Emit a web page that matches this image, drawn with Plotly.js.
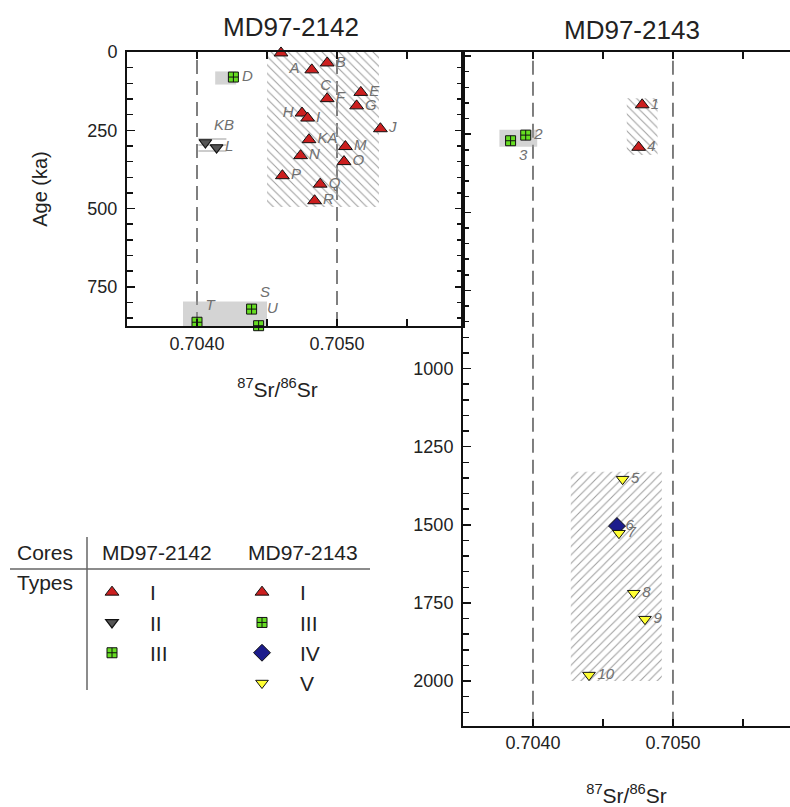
<!DOCTYPE html>
<html><head><meta charset="utf-8">
<script src="https://cdn.plot.ly/plotly-3.0.1.min.js"></script>
<style>html,body{margin:0;padding:0;background:#fff}#chart{width:790px;height:807px}</style>
</head><body><div id="chart"></div><script>
// ---------- DATA ----------
// MD97-2142, type I
const c42_I_label = ['A','B','C','E','F','G','H','I','J','KA','M','N','O','P','Q','R'];
const c42_I_sr    = [0.70460,0.70493,0.70482,0.70517,0.70493,0.70514,0.70475,0.70479,0.70531,0.70480,0.70506,0.70474,0.70505,0.70461,0.70488,0.70484];
const c42_I_age   = [3,35,57,129,149,172,195,211,245,280,302,331,350,395,422,475];
const c42_I_pos   = ['bottom right','middle right','bottom right','middle right','middle right','middle right','middle left','middle right','middle right','middle right','middle right','middle right','middle right','middle right','middle right','middle right'];
// MD97-2142, type II
const c42_II_label = ['KB','L'];
const c42_II_sr    = [0.70406,0.70414];
const c42_II_age   = [289,305];
const c42_II_pos   = ['top right','middle right'];
// MD97-2142, type III
const c42_III_label = ['D','T','S','U'];
const c42_III_sr    = [0.70426,0.70400,0.70439,0.70444];
const c42_III_age   = [80,863,821,874];
const c42_III_pos   = ['middle right','top right','top right','top right'];
// MD97-2143
const c43_I_label = ['1','4'];
const c43_I_sr    = [0.70478,0.704755];
const c43_I_age   = [156,292];
const c43_I_pos   = ['middle right','middle right'];
const c43_III_label = ['2','3'];
const c43_III_sr    = [0.703948,0.70384];
const c43_III_age   = [253,271];
const c43_III_pos   = ['middle right','bottom right'];
const c43_IV_label = ['6'];
const c43_IV_sr    = [0.70460];
const c43_IV_age   = [1504];
const c43_IV_pos   = ['middle right'];
const c43_V_label = ['5','7','8','9','10'];
const c43_V_sr    = [0.70464,0.704614,0.70472,0.70480,0.70440];
const c43_V_age   = [1354,1527,1719,1802,1981];
const c43_V_pos   = ['middle right','middle right','middle right','middle right','middle right'];
// shaded groupings
const hatchL_sr = [0.70450,0.70530], hatchL_age = [0,495];
const grayD_sr = [0.70413,0.70428], grayD_age = [62,104];
const linesKB_sr = [0.70401,0.70421], linesKB_age = [264,328];
const grayTSU_sr = [0.70390,0.70450], grayTSU_age = [797,875];
const gray23_sr = [0.70376,0.70403], gray23_age = [236,290];
const hatch14_sr = [0.70467,0.70489], hatch14_age = [135,317];
const hatch510_sr = [0.70427,0.70492], hatch510_age = [1330,2000];
// reference lines
const refSr = [0.7040, 0.7050];
// ticks
const xTickVals = [0.7040,0.7045,0.7050,0.7055];
const xTickText = ['0.7040','','0.7050',''];
const yTickL = [0,250,500,750];
const yTickR = [0,250,500,750,1000,1250,1500,1750,2000];
const yTickRText = ['','','','','1000','1250','1500','1750','2000'];

// ---------- STYLE ----------
const FONT = 'Liberation Sans, Arial, sans-serif';
const W = 790, H = 807;
const px = v => v / W, py = v => 1 - v / H;
const symI = {symbol:'triangle-up', size:12, color:'#cc1f1f', line:{color:'#111', width:1}};
const symII = {symbol:'triangle-down', size:11, color:'#555', line:{color:'#111', width:1.2}};
const symIII = {symbol:'square-cross', size:10, color:'#66dd22', line:{color:'#111', width:1}};
const symIV = {symbol:'diamond', size:13, color:'#1c1c8c', line:{color:'#111', width:1}};
const symV = {symbol:'triangle-down', size:11, color:'#ffff33', line:{color:'#111', width:1}};
const labelFont = {family: FONT, size: 15, color: '#707070', style: 'italic'};

function rect(xs, ys) { return {x:[xs[0],xs[1],xs[1],xs[0],xs[0]], y:[ys[0],ys[0],ys[1],ys[1],ys[0]]}; }
function region(xs, ys, ax, opts) {
  const r = rect(xs, ys);
  return Object.assign({type:'scatter', mode:'lines', x:r.x, y:r.y, xaxis:ax[0], yaxis:ax[1],
    fill:'toself', line:{width:0}, hoverinfo:'skip', showlegend:false}, opts);
}
function hatch(shape) {
  return {fillcolor:'rgba(0,0,0,0)', fillpattern:{shape:shape, fgcolor:'#a0a0a0', bgcolor:'rgba(0,0,0,0)', size:6, solidity:0.18}};
}
const grayFill = {fillcolor:'rgba(160,160,160,0.45)'};
const L = ['x','y'], R = ['x2','y2'];

function pts(sr, age, ax, marker, name, legend, show) {
  return {type:'scatter', mode:'markers', x:sr, y:age, xaxis:ax[0], yaxis:ax[1], marker:marker,
    name:name, legend:legend, showlegend:show, cliponaxis:false};
}
function labs(sr, age, lab, pos, ax) {
  return {type:'scatter', mode:'markers+text', x:sr, y:age, text:lab, textposition:pos, xaxis:ax[0], yaxis:ax[1],
    marker:{size:12, color:'rgba(0,0,0,0)'},
    textfont:labelFont, showlegend:false, hoverinfo:'skip', cliponaxis:false};
}

const data = [
  region(hatchL_sr, hatchL_age, L, hatch('\\')),
  region(grayD_sr, grayD_age, L, grayFill),
  region(linesKB_sr, linesKB_age, L, hatch('-')),
  region(grayTSU_sr, grayTSU_age, L, grayFill),
  region(gray23_sr, gray23_age, R, grayFill),
  region(hatch14_sr, hatch14_age, R, hatch('\\')),
  region(hatch510_sr, hatch510_age, R, hatch('/')),
  labs(c42_I_sr, c42_I_age, c42_I_label, c42_I_pos, L),
  labs(c42_II_sr, c42_II_age, c42_II_label, c42_II_pos, L),
  labs(c42_III_sr, c42_III_age, c42_III_label, c42_III_pos, L),
  labs(c43_I_sr, c43_I_age, c43_I_label, c43_I_pos, R),
  labs(c43_III_sr, c43_III_age, c43_III_label, c43_III_pos, R),
  labs(c43_IV_sr, c43_IV_age, c43_IV_label, c43_IV_pos, R),
  labs(c43_V_sr, c43_V_age, c43_V_label, c43_V_pos, R),
  pts(c42_I_sr, c42_I_age, L, symI, 'I', 'legend', true),
  pts(c42_II_sr, c42_II_age, L, symII, 'II', 'legend', true),
  pts(c42_III_sr, c42_III_age, L, symIII, 'III', 'legend', true),
  pts(c43_I_sr, c43_I_age, R, symI, 'I', 'legend2', true),
  pts(c43_III_sr, c43_III_age, R, symIII, 'III', 'legend2', true),
  pts(c43_IV_sr, c43_IV_age, R, symIV, 'IV', 'legend2', true),
  pts(c43_V_sr, c43_V_age, R, symV, 'V', 'legend2', true)
];

const axisCommon = {showline:true, linecolor:'#111', linewidth:2, showgrid:false, zeroline:false,
  ticks:'inside', tickcolor:'#111', tickwidth:1.5, tickfont:{family:FONT, size:18, color:'#222'}};
const srTitleL = {text:'<sup>87</sup>Sr/<sup>86</sup>Sr&nbsp;&nbsp;&nbsp;&nbsp;&nbsp;&nbsp;', font:{family:FONT, size:21, color:'#222'}};
const srTitleR = {text:'<sup>87</sup>Sr/<sup>86</sup>Sr', font:{family:FONT, size:21, color:'#222'}};

const shapes = [];
refSr.forEach(v => {
  shapes.push({type:'line', xref:'x', yref:'y domain', x0:v, x1:v, y0:0, y1:1, layer:'below', line:{color:'#555', width:1.5, dash:'14px,7px'}});
  shapes.push({type:'line', xref:'x2', yref:'y2 domain', x0:v, x1:v, y0:0, y1:1, layer:'below', line:{color:'#555', width:1.5, dash:'14px,7px'}});
});
// legend table rules
shapes.push({type:'line', xref:'paper', yref:'paper', x0:px(10), x1:px(370), y0:py(569), y1:py(569), line:{color:'#666', width:1.5}});
shapes.push({type:'line', xref:'paper', yref:'paper', x0:px(87), x1:px(87), y0:py(537), y1:py(690), line:{color:'#666', width:1.5}});

const tf = s => ({family:FONT, size:s, color:'#222'});
const ann = (text, x, y, s) => ({text:text, xref:'paper', yref:'paper', x:px(x), y:py(y), xanchor:'center', yanchor:'middle', showarrow:false, font:tf(s)});
const annotations = [
  ann('MD97-2142', 291, 27, 26),
  ann('MD97-2143', 632, 30, 26),
  ann('Cores', 45, 552, 21),
  ann('MD97-2142', 157, 552, 21),
  ann('MD97-2143', 303, 552, 21),
  ann('Types', 45, 582, 21)
];

const legendCommon = {font:tf(21), bgcolor:'rgba(0,0,0,0)', borderwidth:0, xanchor:'left', yanchor:'top', traceorder:'normal', itemwidth:66};

const layout = {
  width:W, height:H, margin:{l:0, r:0, t:0, b:0}, paper_bgcolor:'#fff', plot_bgcolor:'rgba(0,0,0,0)',
  font:{family:FONT, color:'#222'},
  xaxis: Object.assign({}, axisCommon, {domain:[px(127), px(463)], range:[0.7035, 0.7059], anchor:'y',
    tickvals:xTickVals, ticktext:xTickText, ticklen:7, mirror:'allticks', title:Object.assign({standoff:30}, srTitleL)}),
  yaxis: Object.assign({}, axisCommon, {domain:[py(326), py(52)], range:[875, 0], anchor:'x',
    tickvals:yTickL, ticklen:8, mirror:'allticks', ticklabelstandoff:4,
    minor:{tickmode:'linear', tick0:0, dtick:50, ticks:'inside', ticklen:6, tickcolor:'#111', tickwidth:1.5},
    title:{text:'Age (ka)', font:{family:FONT, size:20, color:'#222'}, standoff:34}}),
  xaxis2: Object.assign({}, axisCommon, {domain:[px(463), 1], range:[0.7035, 0.705836], anchor:'y2',
    tickvals:xTickVals, ticktext:xTickText, ticklen:7, mirror:'allticks', title:Object.assign({standoff:39}, srTitleR)}),
  yaxis2: Object.assign({}, axisCommon, {domain:[py(725.7), py(52)], range:[2143, -13], anchor:'x2',
    tickvals:yTickR, ticktext:yTickRText, ticklen:8, mirror:false, ticklabelstandoff:4,
    minor:{tickmode:'linear', tick0:0, dtick:50, ticks:'inside', ticklen:6, tickcolor:'#111', tickwidth:1.5}}),
  legend: Object.assign({}, legendCommon, {x:px(74), y:py(572)}),
  legend2: Object.assign({}, legendCommon, {x:px(224), y:py(572)}),
  shapes: shapes,
  annotations: annotations,
  showlegend: true
};

Plotly.newPlot('chart', data, layout, {staticPlot:true, displayModeBar:false});
</script></body></html>
